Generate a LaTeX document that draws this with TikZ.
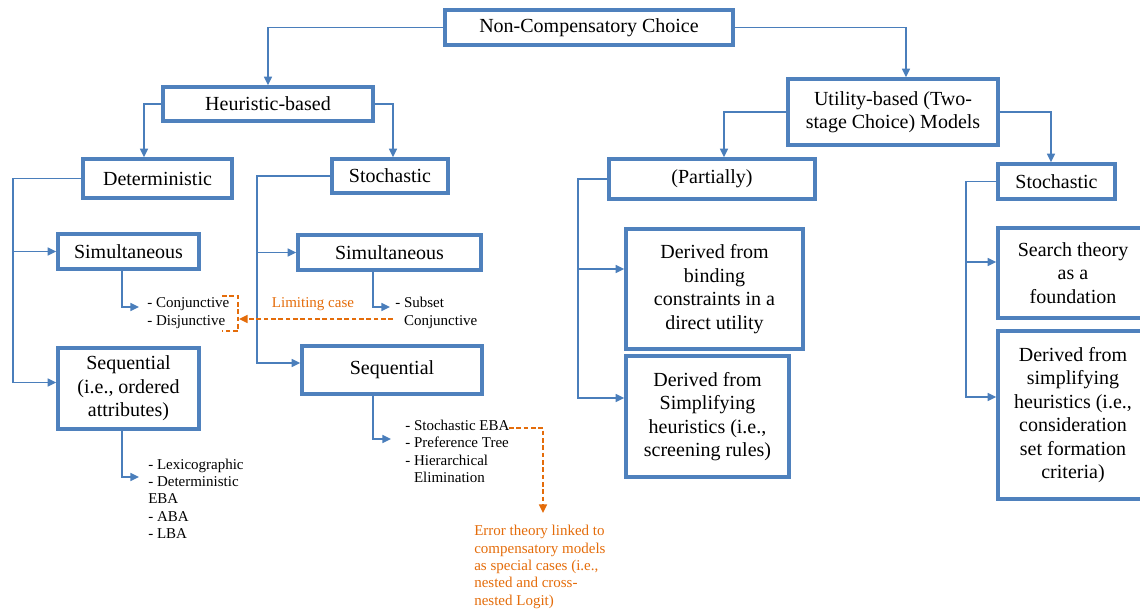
\documentclass[tikz,border=0pt]{standalone}
\usepackage{fontspec}
\setmainfont{Liberation Serif}
\usetikzlibrary{arrows.meta,calc}
\definecolor{boxblue}{HTML}{4F81BD}
\definecolor{lineblue}{HTML}{4A7EBB}
\definecolor{orng}{HTML}{E46C0A}
\begin{document}
\begin{tikzpicture}[x=0.75pt,y=-0.75pt,
 box/.style={draw=boxblue,line width=2.6pt,fill=white,inner sep=0pt,align=center,font=\fontsize{15}{17.6}\selectfont,text=black},
 sz/.style 2 args={minimum width=#1*0.75pt,minimum height=#2*0.75pt},
 conn/.style={draw=lineblue,line width=1.1pt,-{Triangle[length=6.5pt,width=6pt]}},
 lst/.style={inner sep=0pt,align=left,font=\fontsize{11.25}{13}\selectfont,anchor=west},
 onote/.style={inner sep=0pt,align=left,text=orng,font=\fontsize{11.25}{13}\selectfont},
 oline/.style={draw=orng,line width=1.1pt,dash pattern=on 3.5pt off 2pt},
 oarrow/.style={oline,-{Triangle[length=6.5pt,width=6pt]}}
]
\useasboundingbox (0,0) rectangle (1140,611);

% boxes
\node[box,sz={288}{35}] (top) at (589,27.5) {Non-Compensatory Choice};
\node[box,sz={210}{34}] (heur) at (268,104) {Heuristic-based};
\node[box,sz={210}{66}] (util) at (893,112) {Utility-based (Two-\\stage Choice) Models};
\node[box,sz={149}{39}] (det) at (157.5,178.5) {Deterministic};
\node[box,sz={116}{34}] (stoL) at (390,176) {Stochastic};
\node[box,sz={206}{40}] (part) at (712,179) {(Partially)};
\node[box,sz={117}{35}] (stoR) at (1056.5,181.5) {Stochastic};
\node[box,sz={141}{35}] (simL) at (128.5,251.5) {Simultaneous};
\node[box,sz={141}{81}] (seqL) at (128.5,388.5) {Sequential\\(i.e., ordered\\attributes)};
\node[box,sz={183}{35}] (simM) at (389.5,252.5) {Simultaneous};
\node[box,sz={180}{48}] (seqM) at (392,370) {Sequential};
\node[box,sz={177}{120}] (bind) at (714.5,289) {Derived from\\binding\\constraints in a\\direct utility};
\node[box,sz={163}{121}] (simp) at (707.5,416.5) {Derived from\\Simplifying\\heuristics (i.e.,\\screening rules)};
\node[box,sz={150}{90}] (search) at (1073,273) {Search theory\\as a\\foundation};
\node[box,sz={150}{168}] (deriv) at (1073,415) {Derived from\\simplifying\\heuristics (i.e.,\\consideration\\set formation\\criteria)};

% lists
\node[lst] (conjL) at (147,313) {- Conjunctive\\- Disjunctive};
\node[lst] (lexL) at (148,498.5) {- Lexicographic\\- Deterministic\\EBA\\- ABA\\- LBA};
\node[lst] (subM) at (395,313) {- Subset\\\hphantom{- }Conjunctive};
\node[lst] (ebaM) at (405,451.5) {- Stochastic EBA\\- Preference Tree\\- Hierarchical\\\hphantom{- }Elimination};
\node[onote] (lim) at (313,304) {Limiting case};
\node[onote,anchor=north west] (err) at (474,525) {Error theory linked to\\compensatory models\\as special cases (i.e.,\\nested and cross-\\nested Logit)};

% helper coordinates
\coordinate (dl) at (13,0);
\coordinate (sl) at (257,0);
\coordinate (pl) at (578,0);
\coordinate (rl) at (966,0);
\coordinate (utilIn) at ($(util.north)+(13,0)$);
\coordinate (detIn) at ($(det.north)+(-13.5,0)$);
\coordinate (stoLIn) at ($(stoL.north)+(3,0)$);
\coordinate (partIn) at ($(part.north)+(12,0)$);
\coordinate (stoRIn) at ($(stoR.north)+(-5.5,0)$);
\coordinate (seqLIn) at ($(seqL.west)+(0,-6)$);
\coordinate (seqMIn) at ($(seqM.west)+(0,-7)$);
\coordinate (bindIn) at ($(bind.west)+(0,-20)$);
\coordinate (simpIn) at ($(simp.west)+(0,-18.5)$);
\coordinate (searchIn) at ($(search.west)+(0,-11)$);
\coordinate (derivIn) at ($(deriv.west)+(0,-18)$);
\coordinate (simLout) at ($(simL.south)+(-6.5,0)$);
\coordinate (conjIn) at ($(conjL.west)+(-8,-6)$);
\coordinate (seqLout) at ($(seqL.south)+(-6.5,0)$);
\coordinate (lexIn) at ($(lexL.west)+(-9,-21.5)$);
\coordinate (simMout) at ($(simM.south)+(-16.5,0)$);
\coordinate (subIn) at ($(subM.west)+(-5,-6)$);
\coordinate (seqMout) at ($(seqM.south)+(-19,0)$);
\coordinate (ebaIn) at ($(ebaM.west)+(-14,-12.5)$);

% top level connectors
\draw[conn] (top.west) -| (heur.north);
\draw[conn] (top.east) -| (utilIn);
\draw[conn] (heur.west) -| (detIn);
\draw[conn] (heur.east) -| (stoLIn);
\draw[conn] (util.west) -| (partIn);
\draw[conn] (util.east) -| (stoRIn);

% branches
\draw[conn] (det.west) -- (det.west -| dl) |- (seqLIn);
\draw[conn] (simL.west -| dl) -- (simL.west);
\draw[conn] (stoL.west) -- (stoL.west -| sl) |- (seqMIn);
\draw[conn] (simM.west -| sl) -- (simM.west);
\draw[conn] (part.west) -- (part.west -| pl) |- (simpIn);
\draw[conn] (pl |- bindIn) -- (bindIn);
\draw[conn] (stoR.west) -- (stoR.west -| rl) |- (derivIn);
\draw[conn] (rl |- searchIn) -- (searchIn);

% list connectors
\draw[conn] (simLout) |- (conjIn);
\draw[conn] (seqLout) |- (lexIn);
\draw[conn] (simMout) |- (subIn);
\draw[conn] (seqMout) |- (ebaIn);

% orange annotations
\draw[oline] (222,296) -- (238,296) -- (238,331) -- (222,331);
\coordinate (brk) at (239,319);
\coordinate (subOut) at ($(subM.west)+(-2,6)$);
\draw[oarrow] (subOut) -- (brk);
\coordinate (ebaOut) at (509,428);
\coordinate (errTop) at (543,513);
\draw[oarrow] (ebaOut) -| (errTop);
\end{tikzpicture}
\end{document}
